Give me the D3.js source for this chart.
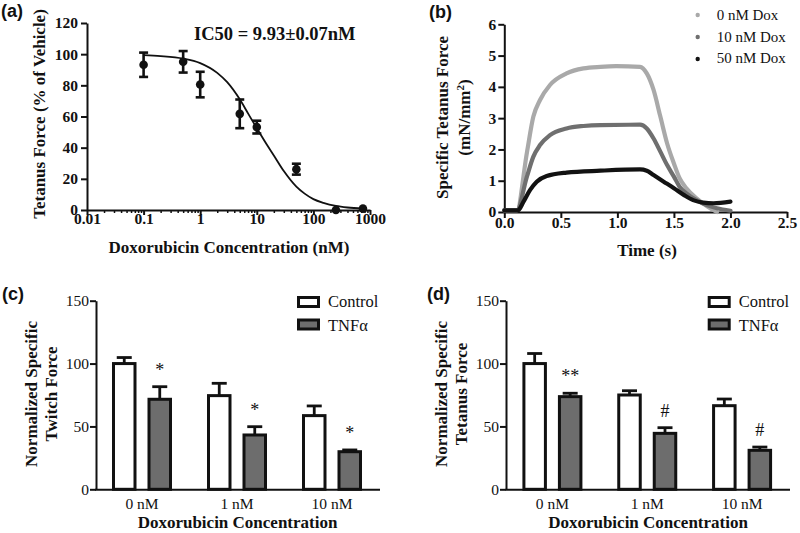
<!DOCTYPE html>
<html><head><meta charset="utf-8">
<script src="https://cdn.jsdelivr.net/npm/d3@7"></script>
<style>body{margin:0;background:#fff} svg{display:block}</style>
</head><body>
<svg id="fig" width="800" height="533"></svg>
<script>
// ---------- Panel (a) data ----------
const concA = [0.1, 0.5, 1, 5, 10, 50, 250, 750];
const meanA = [93.2, 95.1, 80.5, 61.7, 53.2, 26.2, 0, 0.9];
const semA  = [7.8, 6.9, 8.2, 9.2, 4.1, 3.5, 0, 0];
const fitConcA = [0.1, 0.2, 0.5, 1, 2, 3, 5, 7, 10, 15, 20, 30, 50, 70, 100, 150, 250, 400, 750];
const fitValA  = [99.4, 98.8, 97.2, 94.3, 88, 82, 71, 62, 52.5, 42, 35, 25, 15, 10.5, 7, 4.6, 2.6, 1.6, 0.9];
const xTicksA = [0.01, 0.1, 1, 10, 100, 1000];
const xTickLabelsA = ["0.01", "0.1", "1", "10", "100", "1000"];
const yTicksA = [0, 20, 40, 60, 80, 100, 120];
const ic50Label = "IC50 = 9.93±0.07nM";

// ---------- Panel (b) data ----------
const seriesB = ["0 nM Dox", "10 nM Dox", "50 nM Dox"];
const timeB0 = [0, 0.11, 0.2, 0.257, 0.316, 0.404, 0.55, 0.7, 0.85, 0.99, 1.2, 1.26, 1.32, 1.38, 1.44, 1.5, 1.55, 1.61, 1.7, 1.79, 1.88];
const forceB0 = [0.05, 0.05, 1.9, 3.05, 3.58, 4.06, 4.43, 4.59, 4.64, 4.66, 4.64, 4.43, 3.9, 3.05, 2.19, 1.55, 1.08, 0.76, 0.44, 0.19, 0.0];
const timeB1 = [0, 0.11, 0.2, 0.257, 0.316, 0.404, 0.55, 0.7, 0.85, 1.2, 1.26, 1.32, 1.38, 1.44, 1.5, 1.55, 1.61, 1.7, 1.79, 1.88, 2.0];
const forceB1 = [0.05, 0.05, 1.13, 1.77, 2.14, 2.46, 2.67, 2.75, 2.78, 2.79, 2.67, 2.35, 1.93, 1.5, 1.13, 0.81, 0.6, 0.38, 0.22, 0.12, 0.04];
const timeB2 = [0, 0.12, 0.17, 0.227, 0.287, 0.375, 0.55, 0.85, 1.2, 1.26, 1.32, 1.41, 1.5, 1.59, 1.67, 1.76, 1.85, 2.0];
const forceB2 = [0.05, 0.05, 0.33, 0.7, 0.97, 1.15, 1.26, 1.32, 1.36, 1.32, 1.18, 0.97, 0.76, 0.54, 0.38, 0.3, 0.28, 0.33];
const xTicksB = [0, 0.5, 1, 1.5, 2, 2.5];
const yTicksB = [0, 1, 2, 3, 4, 5, 6];

// ---------- Panels (c) and (d) data ----------
const categories = ["0 nM", "1 nM", "10 nM"];
const groups = ["Control", "TNFα"];
const twitchControl = [100, 74.5, 58.6];
const twitchControlErr = [4.8, 9.8, 7.7];
const twitchTNF = [71.6, 43.2, 29.9];
const twitchTNFErr = [10, 6.6, 1.4];
const twitchMarks = ["*", "*", "*"];
const tetanusControl = [100, 75, 66.5];
const tetanusControlErr = [8, 3.4, 5.3];
const tetanusTNF = [73.7, 44.5, 31];
const tetanusTNFErr = [2.7, 4.5, 2.6];
const tetanusMarks = ["**", "#", "#"];
const yTicksCD = [0, 50, 100, 150];

// ---------- drawing ----------
const SERIF = '"Liberation Serif","Times New Roman",serif';
const SANS = '"Liberation Sans",Arial,sans-serif';
const INK = "#111";
const svg = d3.select("#fig");

function styleAxis(g, w, size, weight) {
  g.attr("font-family", null).attr("font-size", null);
  g.select(".domain").attr("stroke", INK).attr("stroke-width", w);
  g.selectAll(".tick line").attr("stroke", INK).attr("stroke-width", w);
  g.selectAll(".tick text").attr("fill", INK)
    .attr("font-family", SERIF).attr("font-size", size).attr("font-weight", weight);
}
function panelLabel(txt, x, y) {
  svg.append("text").attr("x", x).attr("y", y).text(txt)
    .attr("font-family", SANS).attr("font-weight", "bold").attr("font-size", 18).attr("fill", INK);
}
function vTitle(lines, xs, cy, size) {
  lines.forEach((ln, i) => {
    const t = svg.append("text").attr("transform", `translate(${xs[i]},${cy}) rotate(-90)`)
      .attr("text-anchor", "middle").attr("font-family", SERIF).attr("font-weight", "bold")
      .attr("font-size", size).attr("fill", INK);
    if (Array.isArray(ln)) {
      ln.forEach(p => {
        const ts = t.append("tspan").text(p.t);
        if (p.sup) ts.attr("baseline-shift", "super").attr("font-size", size * 0.65);
      });
    } else t.text(ln);
  });
}
function hTitle(txt, cx, y, size) {
  svg.append("text").attr("x", cx).attr("y", y).attr("text-anchor", "middle").text(txt)
    .attr("font-family", SERIF).attr("font-weight", "bold").attr("font-size", size).attr("fill", INK);
}

// ===== Panel (a) =====
{
  const xA = d3.scaleLog().domain([0.01, 1000]).range([87, 370]);
  const yA = d3.scaleLinear().domain([0, 120]).range([210, 23]);
  const isMajor = v => Math.abs(Math.log10(v) - Math.round(Math.log10(v))) < 1e-6;
  const minor = xA.ticks().filter(v => !isMajor(v));
  svg.append("g").attr("transform", "translate(0,210)")
    .call(d3.axisBottom(xA).tickValues(minor).tickSize(3).tickFormat(() => "").tickSizeOuter(0))
    .call(g => { g.select(".domain").remove(); g.selectAll(".tick line").attr("stroke", INK).attr("stroke-width", 1.5); });
  svg.append("g").attr("transform", "translate(0,210)")
    .call(d3.axisBottom(xA).tickValues(xTicksA).tickFormat((d, i) => xTickLabelsA[i]).tickSize(5).tickSizeOuter(0))
    .call(g => { styleAxis(g, 2, 15.5, "bold"); g.selectAll(".tick text").attr("y", 14).attr("dy", 0); });
  svg.append("g").attr("transform", "translate(87,0)")
    .call(d3.axisLeft(yA).tickValues(yTicksA).tickFormat(d3.format("d")).tickSize(6).tickPadding(3).tickSizeOuter(0))
    .call(g => styleAxis(g, 2, 15.5, "bold"));

  const fit = fitConcA.map((c, i) => [c, fitValA[i]]);
  svg.append("path").datum(fit)
    .attr("d", d3.line().x(d => xA(d[0])).y(d => yA(d[1])).curve(d3.curveMonotoneX))
    .attr("fill", "none").attr("stroke", INK).attr("stroke-width", 1.8);

  const pts = concA.map((c, i) => ({ c, m: meanA[i], e: semA[i] }));
  const eb = svg.append("g").attr("stroke", INK).attr("stroke-width", 2.6);
  pts.filter(p => p.e > 0).forEach(p => {
    const x = xA(p.c);
    eb.append("line").attr("x1", x).attr("x2", x).attr("y1", yA(p.m - p.e)).attr("y2", yA(p.m + p.e));
    [p.m - p.e, p.m + p.e].forEach(v => eb.append("line").attr("x1", x - 4.5).attr("x2", x + 4.5).attr("y1", yA(v)).attr("y2", yA(v)));
  });
  svg.append("g").selectAll("circle").data(pts).join("circle")
    .attr("cx", d => xA(d.c)).attr("cy", d => yA(d.m)).attr("r", 4.3).attr("fill", INK);

  svg.append("text").attr("x", 194).attr("y", 40).text(ic50Label)
    .attr("font-family", SERIF).attr("font-weight", "bold").attr("font-size", 18.5).attr("fill", INK);
  vTitle(["Tetanus Force (% of Vehicle)"], [45], 114, 17);
  hTitle("Doxorubicin Concentration (nM)", 229, 253, 17);
  panelLabel("(a)", 1, 17);
}

// ===== Panel (b) =====
{
  const xB = d3.scaleLinear().domain([0, 2.5]).range([504.3, 787]);
  const yB = d3.scaleLinear().domain([0, 6]).range([212, 24.3]);
  svg.append("g").attr("transform", "translate(0,212)")
    .call(d3.axisBottom(xB).tickValues(xTicksB).tickFormat(d3.format(".1f")).tickSize(6).tickSizeOuter(0))
    .call(g => { styleAxis(g, 2, 15.5, "bold"); g.selectAll(".tick text").attr("y", 16).attr("dy", 0); });
  svg.append("g").attr("transform", "translate(504.3,0)")
    .call(d3.axisLeft(yB).tickValues(yTicksB).tickFormat(d3.format("d")).tickSize(6).tickPadding(2).tickSizeOuter(0))
    .call(g => styleAxis(g, 2, 15.5, "bold"));

  const colors = ["#a9a9a9", "#6f6f6f", "#121212"];
  const traces = [[timeB0, forceB0], [timeB1, forceB1], [timeB2, forceB2]];
  const line = d3.line().x(d => xB(d[0])).y(d => yB(d[1])).curve(d3.curveMonotoneX);
  traces.forEach((tr, k) => {
    const data = tr[0].map((t, i) => [t, tr[1][i]]);
    svg.append("path").datum(data).attr("d", line).attr("fill", "none")
      .attr("stroke", colors[k]).attr("stroke-width", 4.2).attr("stroke-linejoin", "round").attr("stroke-linecap", "round");
  });
  const lg = svg.append("g");
  seriesB.forEach((s, i) => {
    lg.append("circle").attr("cx", 697.7).attr("cy", 15 + i * 22).attr("r", 2.2).attr("fill", colors[i]);
    lg.append("text").attr("x", 716.7).attr("y", 20 + i * 21.6).text(s)
      .attr("font-family", SERIF).attr("font-size", 15).attr("fill", INK);
  });
  vTitle(["Specific Tetanus Force", [{ t: "(mN/mm" }, { t: "2", sup: true }, { t: ")" }]], [448, 470], 117.5, 17);
  hTitle("Time (s)", 647, 256, 17);
  panelLabel("(b)", 429, 18);
}

// ===== Panels (c), (d) =====
function barPanel(o) {
  const y = d3.scaleLinear().domain([0, 150]).range([489.3, 300.7]);
  const x0 = d3.scaleBand().domain(categories).range(o.range).padding(0);
  const bw = 60;
  const x1 = d3.scaleBand().domain(groups).range([x0.bandwidth() / 2 - bw / 2, x0.bandwidth() / 2 + bw / 2]).paddingInner(0.31);
  svg.append("g").attr("transform", "translate(0,489.3)")
    .call(d3.axisBottom(x0).tickSize(0).tickPadding(0).tickSizeOuter(0))
    .call(g => { styleAxis(g, 2, 15.5, "normal"); g.selectAll(".tick text").attr("y", 20).attr("dy", 0); });
  svg.append("g").attr("transform", `translate(${o.axisX},0)`)
    .call(d3.axisLeft(y).tickValues(yTicksCD).tickSize(6).tickPadding(1).tickSizeOuter(0))
    .call(g => styleAxis(g, 2, 15.5, "normal"));

  const fills = ["#ffffff", "#6d6d6d"];
  const vals = [o.control, o.tnf], errs = [o.controlErr, o.tnfErr];
  const g = svg.append("g");
  categories.forEach((c, ci) => {
    groups.forEach((s, si) => {
      const v = vals[si][ci], e = errs[si][ci];
      const bx = x0(c) + x1(s), w = x1.bandwidth();
      const cx = bx + w / 2;
      g.append("line").attr("x1", cx).attr("x2", cx).attr("y1", y(v)).attr("y2", y(v + e)).attr("stroke", INK).attr("stroke-width", 2.8);
      g.append("line").attr("x1", cx - 7.5).attr("x2", cx + 7.5).attr("y1", y(v + e)).attr("y2", y(v + e)).attr("stroke", INK).attr("stroke-width", 2.8);
      g.append("rect").attr("x", bx + 1.5).attr("y", y(v)).attr("width", w - 3).attr("height", y(0) - y(v))
        .attr("fill", fills[si]).attr("stroke", INK).attr("stroke-width", 3);
      if (si === 1) {
        g.append("text").attr("x", cx).attr("y", y(v + e) - 11).attr("text-anchor", "middle").text(o.marks[ci])
          .attr("font-family", SERIF).attr("font-size", 18).attr("fill", INK);
      }
    });
  });
  groups.forEach((s, i) => {
    g.append("rect").attr("x", o.legX + 1.5).attr("y", 297.5 + i * 22.5).attr("width", 20).attr("height", 9)
      .attr("fill", fills[i]).attr("stroke", INK).attr("stroke-width", 3);
    g.append("text").attr("x", o.legX + 31).attr("y", 307 + i * 23.5).text(s)
      .attr("font-family", SERIF).attr("font-size", 16.5).attr("fill", INK);
  });
  vTitle(o.ytitle, o.ytx, 394, 17);
  hTitle("Doxorubicin Concentration", o.xtx, 527.5, 17);
  panelLabel(o.label, o.lx, 300);
}
barPanel({ range: [94.5, 379.5], axisX: 96, control: twitchControl, controlErr: twitchControlErr,
  tnf: twitchTNF, tnfErr: twitchTNFErr, marks: twitchMarks, legX: 297,
  ytitle: ["Normalized Specific", "Twitch Force"], ytx: [37, 57], xtx: 237.5, label: "(c)", lx: 2 });
barPanel({ range: [505, 789.5], axisX: 506, control: tetanusControl, controlErr: tetanusControlErr,
  tnf: tetanusTNF, tnfErr: tetanusTNFErr, marks: tetanusMarks, legX: 707.7,
  ytitle: ["Normalized Specific", "Tetanus Force"], ytx: [447, 467], xtx: 648, label: "(d)", lx: 427 });
</script>
</body></html>
